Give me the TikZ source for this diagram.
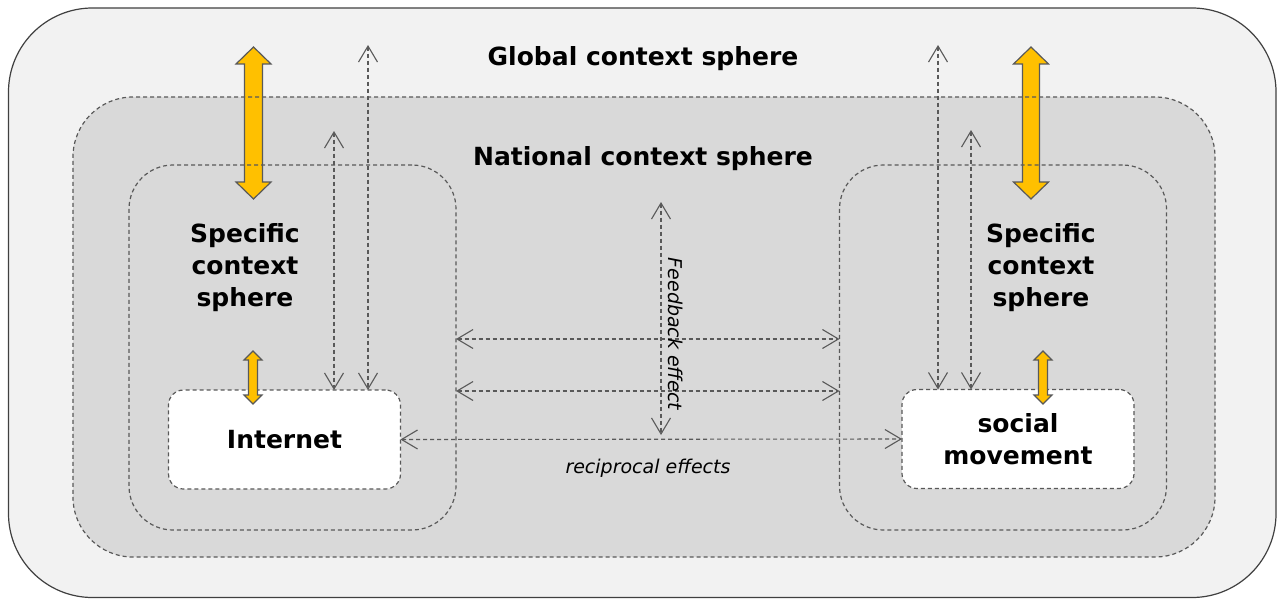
\documentclass[tikz,border=0pt]{standalone}
\usepackage{fontspec}
\setmainfont{DejaVu Sans}
\usetikzlibrary{shapes,arrows.meta,positioning}
\definecolor{globalfill}{HTML}{F2F2F2}
\definecolor{nationalfill}{HTML}{D9D9D9}
\definecolor{linegray}{HTML}{595959}
\definecolor{amber}{HTML}{FFC000}
\tikzstyle{globalsphere} = [draw=black!75,fill=globalfill,line width=0.6pt,rectangle,rounded corners=42pt,outer sep=0,minimum width=633.75pt,minimum height=294.75pt]
\tikzstyle{nationalsphere} = [rectangle,rounded corners=30pt,outer sep=0,minimum width=571pt,minimum height=230pt]
\tikzstyle{specificsphere} = [draw=linegray,dash pattern=on 2pt off 1.5pt,line width=0.6pt,rectangle,rounded corners=22pt,outer sep=0,minimum width=163.5pt,minimum height=182.5pt]
\tikzstyle{actor} = [draw=linegray,fill=white,dash pattern=on 2pt off 1.5pt,line width=0.6pt,rectangle,rounded corners=7.5pt,outer sep=0,minimum width=116pt,minimum height=49.5pt,align=center,font=\bfseries\fontsize{12.5}{16}\selectfont]
\tikzstyle{title} = [align=center,font=\bfseries\fontsize{12.5}{16}\selectfont]
\tikzstyle{remark} = [font=\itshape\fontsize{9.5}{12}\selectfont]
\tikzstyle{effect} = [draw=linegray,line width=0.55pt,dash pattern=on 2pt off 1.5pt,{Straight Barb[length=8pt,width=9.5pt]}-{Straight Barb[length=8pt,width=9.5pt]}]
\tikzstyle{fatarrow} = [fill=amber,draw=black!65,line width=0.6pt]
\newcommand{\orangearrow}[6]{%
  \filldraw[fatarrow] (#1,#2) -- (#1+#5,#2+#6) -- (#1+#4,#2+#6) -- (#1+#4,#3-#6) -- (#1+#5,#3-#6) -- (#1,#3) -- (#1-#5,#3-#6) -- (#1-#4,#3-#6) -- (#1-#4,#2+#6) -- (#1-#5,#2+#6) -- cycle;}

\begin{document}
\begin{tikzpicture}[x=0.5pt,y=-0.5pt]
  \useasboundingbox (0,0) rectangle (1277,599);
  \node[globalsphere] (global) at (642.25,302.75) {};
  \node[nationalsphere,fill=nationalfill] (national) at (644,327) {};
  \orangearrow{253.5}{47}{199}{9}{17.5}{17}
  \orangearrow{1031}{47}{199}{8.5}{17.5}{17}
  \node[nationalsphere,draw=linegray,dash pattern=on 2pt off 1.5pt,line width=0.6pt] at (national.center) {};
  \node[specificsphere] (specL) at (292.5,347.5) {};
  \node[specificsphere] (specR) at (1003,347.5) {};
  \node[actor] (internet) at (284.5,439.5) {Internet};
  \node[actor] (social) at (1018,439) {social\\movement};
  \orangearrow{253}{351}{404}{4.5}{9}{9}
  \orangearrow{1043}{351}{404}{4.5}{9}{9}

  \node[title] (globalLabel) at (643,58.5) {Global context sphere};
  \node[title] (nationalLabel) at (643,159) {National context sphere};
  \node[title] (specLLabel) at (245,267.5) {Specific\\context\\sphere};
  \node[title] (specRLabel) at (1041,267.5) {Specific\\context\\sphere};

  \coordinate (gL) at (368,45);
  \coordinate (nL) at (334,131);
  \coordinate (gR) at (938,45);
  \coordinate (nR) at (971,130);
  \draw[effect] (gL) -- (gL |- internet.north);
  \draw[effect] (nL) -- (nL |- internet.north);
  \draw[effect] (gR) -- (gR |- social.north);
  \draw[effect] (nR) -- (nR |- social.north);
  \draw[effect] (specL.east |- 0,339) -- (specR.west |- 0,339);
  \draw[effect] (specL.east |- 0,391) -- (specR.west |- 0,391);

  \coordinate (fbTop) at (661,202);
  \coordinate (fbBot) at (661,435);
  \draw[effect] (fbTop) -- (fbBot);
  \node[remark,rotate=-90] (feedback) at (676,334) {Feedback effect};

  \draw[effect] (internet.east) -- (social.west);
  \node[remark] (reciprocal) at (648,468) {reciprocal effects};
\end{tikzpicture}
\end{document}
